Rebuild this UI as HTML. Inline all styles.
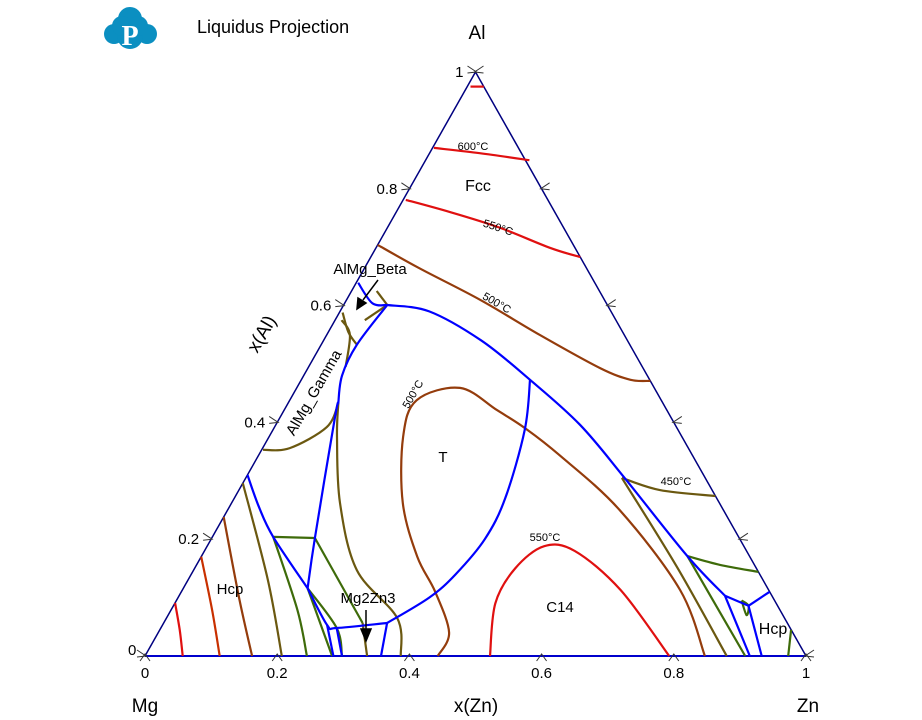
<!DOCTYPE html>
<html><head><meta charset="utf-8"><style>
body{margin:0;background:#fff;}
svg{display:block;font-family:"Liberation Sans",sans-serif;}
</style></head><body>
<svg id="chart" width="922" height="720" viewBox="0 0 922 720">
<g fill="#0b8fc1">
<circle cx="130" cy="19" r="12"/><circle cx="114" cy="34" r="10"/><circle cx="147" cy="34" r="10"/><circle cx="130" cy="36" r="13"/><circle cx="122" cy="26" r="10"/><circle cx="138" cy="26" r="10"/>
<text x="130" y="45" fill="#fff" font-family="Liberation Serif,serif" font-weight="bold" font-size="28" text-anchor="middle">P</text>
</g>
<text x="197" y="33" font-size="18">Liquidus Projection</text>
<g id="frame"></g>
<g id="curves"></g>
<g id="labels" font-size="16">
<text x="477" y="39" text-anchor="middle" font-size="19">Al</text>
<text x="145" y="712" text-anchor="middle" font-size="19">Mg</text>
<text x="808" y="712" text-anchor="middle" font-size="19">Zn</text>
<text x="476" y="712" text-anchor="middle" font-size="19">x(Zn)</text>
<text x="0" y="0" font-size="19" text-anchor="middle" transform="translate(267,337) rotate(-60)">x(Al)</text>
<text x="478" y="191" text-anchor="middle">Fcc</text>
<text x="443" y="462" text-anchor="middle" font-size="15">T</text>
<text x="560" y="612" text-anchor="middle" font-size="15">C14</text>
<text x="230" y="594" text-anchor="middle" font-size="15">Hcp</text>
<text x="773" y="634" text-anchor="middle">Hcp</text>
<text x="368" y="603" text-anchor="middle" font-size="15">Mg2Zn3</text>
<text x="370" y="274" text-anchor="middle" font-size="15">AlMg_Beta</text>
<text x="0" y="0" font-size="15" text-anchor="middle" transform="translate(318,395) rotate(-60)">AlMg_Gamma</text>
<g font-size="11">
<text x="473" y="150" text-anchor="middle">600°C</text>
<text x="0" y="0" text-anchor="middle" transform="translate(497,231) rotate(18)">550°C</text>
<text x="0" y="0" text-anchor="middle" transform="translate(495,306) rotate(30)">500°C</text>
<text x="0" y="0" text-anchor="middle" transform="translate(416,396) rotate(-60)">500°C</text>
<text x="676" y="485" text-anchor="middle">450°C</text>
<text x="545" y="541" text-anchor="middle">550°C</text>
</g>
</g>
<g stroke="#000" stroke-width="1.5" fill="#000">
<line x1="366" y1="610" x2="366" y2="632"/><polygon points="361,629 371,629 366,641"/>
<line x1="378" y1="280" x2="363" y2="300"/><polygon points="358,298 366,303 357,309"/>
</g>
</svg>
<script>
// Ternary compositions: [x(Zn), x(Al)]
const ticks = [0, 0.2, 0.4, 0.6, 0.8, 1];
const tickLabels = ["0", "0.2", "0.4", "0.6", "0.8", "1"];
const blueCurves = [
 [[0.003,0.639],[0.042,0.604],[0.066,0.601]],
 [[0.066,0.601],[0.135,0.590],[0.239,0.540],[0.346,0.473],[0.460,0.396],[0.573,0.305],[0.735,0.171],[0.826,0.103]],
 [[0.826,0.103],[0.915,0]],
 [[0.826,0.103],[0.865,0.088],[0.870,0.086]],
 [[0.870,0.086],[0.890,0.110]],
 [[0.870,0.086],[0.933,0]],
 [[0.066,0.601],[0.054,0.533],[0.058,0.480],[0.076,0.433]],
 [[0.076,0.433],[0.083,0.409],[0.156,0.202],[0.188,0.116]],
 [[0.188,0.116],[0.249,0.053],[0.266,0.048],[0.338,0.0565]],
 [[0,0.310],[0.045,0.255],[0.092,0.204],[0.188,0.116]],
 [[0.346,0.473],[0.381,0.387],[0.410,0.270],[0.414,0.200],[0.400,0.140],[0.380,0.100],[0.338,0.0565]],
 [[0.338,0.0565],[0.357,0]],
 [[0.249,0.053],[0.285,0]],
 [[0.266,0.048],[0.298,0]]
];
const redCurves = [
 [[0.005,0.975],[0.025,0.975]],
 [[0.002,0.870],[0.076,0.861],[0.157,0.849]],
 [[0.004,0.781],[0.082,0.760],[0.171,0.733],[0.263,0.699],[0.317,0.683]],
 [[0.522,0],[0.485,0.090],[0.485,0.150],[0.510,0.188],[0.560,0.180],[0.663,0.113],[0.793,0]],
 [[0,0.091],[0.030,0.045],[0.057,0]]
];
const darkRedCurves = [
 [[0,0.170],[0.062,0.079],[0.113,0]]
];
const brownCurves = [
 [[0,0.704],[0.083,0.664],[0.202,0.610],[0.322,0.550],[0.442,0.493],[0.498,0.473],[0.529,0.471]],
 [[0.847,0],[0.753,0.113],[0.593,0.250],[0.455,0.344],[0.380,0.390],[0.322,0.421],[0.247,0.459],[0.192,0.438],[0.203,0.375],[0.259,0.262],[0.327,0.170],[0.384,0.110],[0.440,0.040],[0.443,0]],
 [[0,0.238],[0.095,0.096],[0.162,0]]
];
const oliveCurves = [
 [[0.569,0.305],[0.637,0.284],[0.726,0.274]],
 [[0.569,0.305],[0.729,0.152],[0.880,0]],
 [[0.002,0.353],[0.041,0.356],[0.079,0.392],[0.076,0.433]],
 [[0.076,0.433],[0.103,0.375],[0.164,0.262],[0.247,0.147],[0.349,0.065],[0.387,0]],
 [[0,0.296],[0.121,0.130],[0.207,0]],
 [[0.301,0.0565],[0.336,0]],
 [[0.005,0.588],[0.030,0.555],[0.054,0.533]],
 [[0.010,0.575],[0.035,0.550],[0.056,0.495]],
 [[0.038,0.625],[0.066,0.601]],
 [[0.066,0.601],[0.045,0.575]]
];
const greenCurves = [
 [[0.735,0.171],[0.792,0.156],[0.856,0.144]],
 [[0.735,0.171],[0.908,0]],
 [[0.955,0.045],[0.973,0]],
 [[0.092,0.204],[0.156,0.202]],
 [[0.156,0.202],[0.301,0.0565]],
 [[0.092,0.204],[0.191,0.079],[0.245,0]],
 [[0.188,0.116],[0.283,0]],
 [[0.188,0.116],[0.266,0.048],[0.298,0]],
 [[0.855,0.095],[0.870,0.086],[0.875,0.070],[0.855,0.095]]
];
const svgNS = "http://www.w3.org/2000/svg";
function X(zn, al){ return 145 + 661*zn + 330.5*al; }
function Y(zn, al){ return 656 - 584*al; }
function mk(tag, attrs, parent){ const e=document.createElementNS(svgNS,tag); for(const k in attrs) e.setAttribute(k,attrs[k]); parent.appendChild(e); return e; }
const frame=document.getElementById('frame');
const curves=document.getElementById('curves');
function smoothPath(pts){
 if(pts.length<3) return pts.map((p,j)=>(j?'L':'M')+p[0].toFixed(1)+','+p[1].toFixed(1)).join(' ');
 let d='M'+pts[0][0].toFixed(1)+','+pts[0][1].toFixed(1);
 for(let i=0;i<pts.length-1;i++){
  const p0=pts[i-1]||pts[i], p1=pts[i], p2=pts[i+1], p3=pts[i+2]||p2;
  const c1=[p1[0]+(p2[0]-p0[0])/6, p1[1]+(p2[1]-p0[1])/6];
  const c2=[p2[0]-(p3[0]-p1[0])/6, p2[1]-(p3[1]-p1[1])/6];
  d+=` C${c1[0].toFixed(1)},${c1[1].toFixed(1)} ${c2[0].toFixed(1)},${c2[1].toFixed(1)} ${p2[0].toFixed(1)},${p2[1].toFixed(1)}`;
 }
 return d;
}
function drawSet(set, color, width, name){
 set.forEach((c,i)=>{
  const pts=c.map(p=>[X(p[0],p[1]),Y(p[0],p[1])]);
  const el=mk('path',{d:smoothPath(pts),fill:'none',stroke:color,'stroke-width':width,'stroke-linejoin':'round'},curves);
  
  
 });
}
drawSet(redCurves,'#e01010',2.2,'red-isotherm');
drawSet(darkRedCurves,'#c83000',2.2,'darkred-isotherm');
drawSet(brownCurves,'#943c0c',2.2,'brown-isotherm');
drawSet(oliveCurves,'#6b5810',2.2,'olive-isotherm');
drawSet(greenCurves,'#3e6b0a',2.2,'green-isotherm');
drawSet(blueCurves,'#0000ff',2.2,'phase-boundary');
const e1=mk('line',{x1:X(0,0),y1:Y(0,0),x2:X(1,0),y2:Y(1,0),stroke:'#0000cc','stroke-width':2},frame);


const e2=mk('line',{x1:X(0,0),y1:Y(0,0),x2:X(0,1),y2:Y(0,1),stroke:'#000080','stroke-width':1.5},frame);


const e3=mk('line',{x1:X(1,0),y1:Y(1,0),x2:X(0,1),y2:Y(0,1),stroke:'#000080','stroke-width':1.5},frame);


ticks.forEach((t,i)=>{
 let bx=X(t,0), by=Y(t,0);
 const tb=mk('path',{d:`M${bx-5},${by+5} L${bx},${by-2} L${bx+5},${by+5}`,fill:'none',stroke:'#333','stroke-width':1},frame);
 
 
 const lb=mk('text',{x:bx,y:by+22,'text-anchor':'middle','font-size':15},frame);
 lb.textContent=tickLabels[i];
 
 
 let lx=X(0,t), ly=Y(0,t);
 const tl=mk('path',{d:`M${lx-8},${ly-6} L${lx+1},${ly} L${lx-8},${ly+1}`,fill:'none',stroke:'#333','stroke-width':1},frame);
 
 
 if(t>0){
 const ll=mk('text',{x:lx-12,y:ly+5,'text-anchor':'end','font-size':15},frame);
 ll.textContent=tickLabels[i];
 
 
 }
 let rx=X(1-t,t), ry=Y(1-t,t);
 const tr=mk('path',{d:`M${rx+8},${ry-6} L${rx-1},${ry} L${rx+8},${ry+1}`,fill:'none',stroke:'#333','stroke-width':1},frame);
 
 
});
const z0=mk('text',{x:128,y:655,'font-size':15},frame);
z0.textContent='0';


</script>
</body></html>
